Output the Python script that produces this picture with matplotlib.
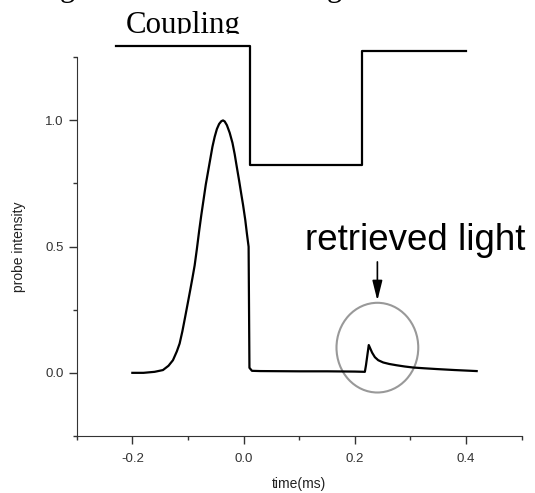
import matplotlib
matplotlib.use("Agg")
import matplotlib.pyplot as plt
from matplotlib.patches import Ellipse
from matplotlib.ticker import MultipleLocator

plt.rcParams["axes.unicode_minus"] = False

# probe pulse
pulse_t = [-0.200, -0.180, -0.160, -0.145, -0.135, -0.127, -0.120, -0.115,
           -0.110, -0.105, -0.100, -0.096, -0.092, -0.088, -0.084, -0.080,
           -0.076, -0.072, -0.068, -0.064, -0.060, -0.056, -0.052, -0.048,
           -0.044, -0.040, -0.037, -0.034, -0.030, -0.025, -0.020, -0.016,
           -0.013, -0.008, -0.004, -0.001, 0.003, 0.006, 0.009, 0.0105,
           0.015]
pulse_i = [0.000, 0.000, 0.004, 0.011, 0.028, 0.050, 0.085, 0.116,
           0.165, 0.222, 0.280, 0.327, 0.375, 0.425, 0.490, 0.560,
           0.625, 0.685, 0.745, 0.795, 0.845, 0.895, 0.934, 0.965,
           0.985, 0.996, 0.999, 0.995, 0.980, 0.950, 0.910, 0.865,
           0.825, 0.760, 0.705, 0.665, 0.605, 0.550, 0.499, 0.020,
           0.008]

# storage period + retrieved light
tail_t = [0.030, 0.100, 0.150, 0.200, 0.218, 0.220, 0.225, 0.228, 0.231,
          0.236, 0.242, 0.251, 0.262, 0.275, 0.290, 0.305, 0.325, 0.347,
          0.380, 0.419]
tail_i = [0.007, 0.006, 0.006, 0.005, 0.004, 0.030, 0.110, 0.095, 0.080,
          0.062, 0.050, 0.041, 0.035, 0.030, 0.025, 0.021, 0.018, 0.015,
          0.011, 0.007]

# coupling field on/off trace
coupling_t = [-0.229, 0.011, 0.011, 0.213, 0.213, 0.400]
coupling_v = [1.294, 1.294, 0.822, 0.822, 1.273, 1.273]

fig = plt.figure(figsize=(5.35, 4.93), dpi=100)
ax = fig.add_axes([0.1434, 0.1156, 0.8318, 0.7688])

ax.plot(pulse_t + tail_t, pulse_i + tail_i, color="black", lw=1.6)
ax.plot(coupling_t, coupling_v, color="black", lw=1.6, clip_on=False)

ax.add_patch(Ellipse((0.2405, 0.0997), 0.147, 0.355, fill=False,
                     edgecolor="#999999", lw=1.5, clip_on=False))
ax.annotate("", xy=(0.2405, 0.275), xytext=(0.2405, 0.45),
            arrowprops=dict(arrowstyle="-|>,head_length=1.2,head_width=0.3",
                            color="black", lw=1.2))
ax.text(0.110, 0.488, "retrieved light", fontsize=26.5,
        family="Liberation Sans", ha="left", va="baseline")

ax.set_xlim(-0.3, 0.5)
ax.set_ylim(-0.25, 1.25)
ax.set_xticks([-0.2, 0.0, 0.2, 0.4])
ax.set_yticks([0.0, 0.5, 1.0])
ax.xaxis.set_minor_locator(MultipleLocator(0.1))
ax.yaxis.set_minor_locator(MultipleLocator(0.25))
ax.tick_params(which="major", length=6, width=1, color="#333333",
               labelsize=9.5, labelcolor="#333333")
ax.tick_params(which="minor", length=3, width=1, color="#333333")
ax.tick_params(axis="x", pad=6)
for s in ["top", "right"]:
    ax.spines[s].set_visible(False)
for s in ["left", "bottom"]:
    ax.spines[s].set_color("#333333")
for lab in ax.get_xticklabels() + ax.get_yticklabels():
    lab.set_family("Liberation Sans")

ax.set_xlabel("time(ms)", fontsize=10, family="Liberation Sans",
              color="#222222", labelpad=9)
ax.set_ylabel("probe intensity", fontsize=10, family="Liberation Sans",
              color="#222222", labelpad=14)

# serif "Coupling" label, its lower part cut off as in the scan
fig.text(126 / 535, 1 - 33.5 / 493, "Coupling", fontsize=22.2,
         family="Liberation Serif", ha="left", va="baseline")
fig.patches.append(plt.Rectangle((120 / 535, 1 - 42 / 493), 130 / 535, 8.3 / 493,
                                 transform=fig.transFigure, color="white",
                                 zorder=5))
# descenders of a cropped caption line above
fig.text(60 / 535, 1 + 4 / 493, "g", fontsize=22, family="Liberation Serif",
         ha="left", va="baseline")
fig.text(327 / 535, 1 + 4 / 493, "g", fontsize=22, family="Liberation Serif",
         ha="left", va="baseline")

fig.savefig("out.png", dpi=100)
